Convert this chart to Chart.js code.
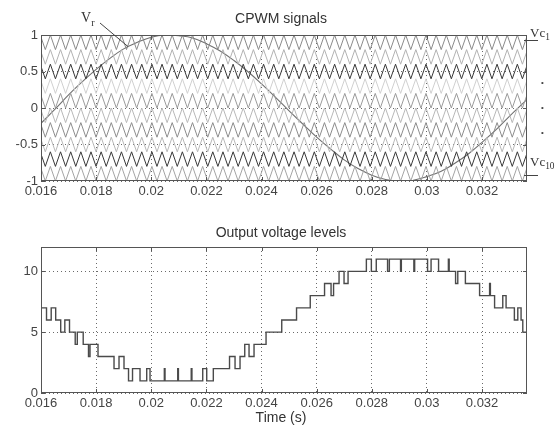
<!DOCTYPE html>
<html><head><meta charset="utf-8">
<script src="https://cdn.jsdelivr.net/npm/chart.js@4.4.1/dist/chart.umd.min.js"></script>
<style>
body{margin:0;background:#fff;width:556px;height:432px;position:relative;overflow:hidden;font-family:"Liberation Sans",Arial,sans-serif;}
canvas{position:absolute;left:0;}
.t{position:absolute;font-size:14px;line-height:16px;color:#333;white-space:nowrap;transform:translateX(-50%);}
.ann{position:absolute;font-family:"Liberation Serif","Times New Roman",serif;color:#333;white-space:nowrap;line-height:1;}
.ann sub{font-size:72%;vertical-align:-0.35em;line-height:0;}
.dot{position:absolute;font-size:8px;line-height:8px;color:#444;}
</style></head><body>
<canvas id="c1" width="556" height="200" style="top:0;width:556px;height:200px"></canvas>
<canvas id="c2" width="556" height="232" style="top:200px;width:556px;height:232px"></canvas>
<div class="t" style="left:281px;top:10px">CPWM signals</div>
<div class="t" style="left:281px;top:224px">Output voltage levels</div>
<div class="t" style="left:281px;top:409px">Time (s)</div>
<div class="ann" style="left:81px;top:11px;font-size:14px">V<sub>r</sub></div>
<div class="ann" style="left:530px;top:26px;font-size:13px">Vc<sub>1</sub></div>
<div class="ann" style="left:530px;top:155px;font-size:13px">Vc<sub>10</sub></div>
<div class="dot" style="left:541px;top:79px">•</div>
<div class="dot" style="left:541px;top:104px">•</div>
<div class="dot" style="left:541px;top:129px">•</div>
<script>
// ---------- data ----------
const xMin = 0.016, xMax = 0.03363;
const xTicks = [0.016,0.018,0.020,0.022,0.024,0.026,0.028,0.030,0.032];
const xTickLabels = ['0.016','0.018','0.02','0.022','0.024','0.026','0.028','0.03','0.032'];
const topYTicks = [-1,-0.5,0,0.5,1];
const topYTickLabels = ['-1','-0.5','0','0.5','1'];
const botYTicks = [0,5,10];
const botYTickLabels = ['0','5','10'];

// carrier bands (bottom, top), listed from Vc1 (top) to Vc10 (bottom)
const carrierBands = [[0.8,1],[0.6,0.8],[0.4,0.6],[0.2,0.4],[0,0.2],[-0.2,0],[-0.4,-0.2],[-0.6,-0.4],[-0.8,-0.6],[-1,-0.8]];
// carrier vertex times (even index = peak of band, odd index = valley)
const carrierVertexTimes = [0.015972,0.016156,0.016340,0.016524,0.016709,0.016893,0.017077,0.017261,0.017445,0.017629,
0.017813,0.017997,0.018182,0.018366,0.018550,0.018734,0.018918,0.019102,0.019286,0.019470,
0.019655,0.019839,0.020023,0.020207,0.020391,0.020575,0.020759,0.020944,0.021128,0.021312,
0.021496,0.021680,0.021864,0.022048,0.022232,0.022417,0.022601,0.022785,0.022969,0.023153,
0.023337,0.023521,0.023705,0.023890,0.024074,0.024258,0.024442,0.024626,0.024810,0.024994,
0.025179,0.025363,0.025547,0.025731,0.025915,0.026099,0.026283,0.026467,0.026652,0.026836,
0.027020,0.027204,0.027388,0.027572,0.027756,0.027940,0.028125,0.028309,0.028493,0.028677,
0.028861,0.029045,0.029229,0.029413,0.029598,0.029782,0.029966,0.030150,0.030334,0.030518,
0.030702,0.030886,0.031071,0.031255,0.031439,0.031623,0.031807,0.031991,0.032175,0.032359,
0.032544,0.032728,0.032912,0.033096,0.033280,0.033464,0.033648];

// reference signal Vr
const refTimes = [0.0160,0.0165,0.0170,0.0175,0.0180,0.0185,0.0190,0.0195,0.0200,0.0205,
0.0210,0.0215,0.0220,0.0225,0.0230,0.0235,0.0240,0.0245,0.0250,0.0255,
0.0260,0.0265,0.0270,0.0275,0.0280,0.0285,0.0290,0.0295,0.0300,0.0305,
0.0310,0.0315,0.0320,0.0325,0.0330,0.0335,0.03363];
const refValues = [-0.21,-0.02,0.18,0.36,0.53,0.68,0.81,0.90,0.97,1.00,
0.99,0.96,0.88,0.78,0.65,0.50,0.33,0.15,-0.04,-0.22,
-0.40,-0.56,-0.71,-0.83,-0.92,-0.98,-1.00,-0.99,-0.94,-0.87,
-0.76,-0.63,-0.47,-0.30,-0.11,0.07,0.12];
const vrPointer = [0.01916, 0.84];

// output voltage levels (level starting at each time)
const levelTimes = [0.016000,0.016011,0.016200,0.016370,0.016533,0.016715,0.016864,0.017034,0.017241,0.017317,
0.017531,0.017723,0.017778,0.018068,0.018649,0.018830,0.019011,0.019175,0.019320,0.019592,
0.019835,0.019955,0.020474,0.020499,0.020960,0.020985,0.021450,0.021475,0.021867,0.022012,
0.022251,0.022839,0.023039,0.023220,0.023391,0.023547,0.023728,0.024164,0.024733,0.025270,
0.025767,0.026286,0.026522,0.026613,0.026812,0.026993,0.027139,0.027803,0.027984,0.028162,
0.028572,0.028637,0.029043,0.029072,0.029526,0.029555,0.030023,0.030150,0.030422,0.030778,
0.030807,0.031039,0.031119,0.031395,0.031910,0.032273,0.032302,0.032454,0.032751,0.032871,
0.033172,0.033296,0.033415,0.033477,0.033630];
const levelValues = [8,7,6,7,6,5,6,5,4,5,
4,3,4,3,2,3,2,1,2,1,
2,1,2,1,2,1,2,1,2,1,
2,3,2,3,4,3,4,5,6,7,
8,9,8,9,10,9,10,11,10,11,
10,11,10,11,10,11,10,11,10,11,
10,9,10,9,8,9,8,7,8,7,
6,7,6,5,5];

// ---------- styles ----------
const carrierColors = ['#8a8a8a','#b2b2b2','#383838','#d0d0d0','#9a9a9a','#b8b8b8','#8c8c8c','#b8b8b8','#383838','#a4a4a4'];
const FONT = {family:'"Liberation Sans", Arial, sans-serif', size:13};
const TICKCOL = '#444';

function xScale(h){
  return {type:'linear',min:xMin,max:xMax,
    afterBuildTicks:s=>{s.ticks=xTicks.map(v=>({value:v}));},
    ticks:{autoSkip:false,maxRotation:0,minRotation:0,padding:3,color:TICKCOL,font:FONT,callback:(v,i)=>xTickLabels[i]},
    grid:{color:'#6a6a6a',lineWidth:1,drawTicks:false},
    border:{display:false,dash:[1,3]},
    afterFit:s=>{s.height=h;}};
}
function yScale(min,max,ticks,labels){
  return {type:'linear',min:min,max:max,
    afterBuildTicks:s=>{s.ticks=ticks.map(v=>({value:v}));},
    ticks:{autoSkip:false,padding:3,color:TICKCOL,font:FONT,callback:(v,i)=>labels[i]},
    grid:{color:'#6a6a6a',lineWidth:1,drawTicks:false},
    border:{display:false,dash:[1,3]},
    afterFit:s=>{s.width=41;}};
}
const boxPlugin = {id:'box',afterDraw(chart){
  const {ctx,chartArea:a}=chart; const xs=chart.scales.x, ys=chart.scales.y;
  ctx.save(); ctx.strokeStyle='#555'; ctx.lineWidth=1;
  ctx.strokeRect(Math.round(a.left)+0.5,Math.round(a.top)+0.5,Math.round(a.right-a.left)-1,Math.round(a.bottom-a.top)-1);
  ctx.beginPath();
  xs.ticks.forEach(t=>{const p=Math.round(xs.getPixelForValue(t.value))+0.5;
    ctx.moveTo(p,a.bottom);ctx.lineTo(p,a.bottom-4);ctx.moveTo(p,a.top);ctx.lineTo(p,a.top+4);});
  ys.ticks.forEach(t=>{const p=Math.round(ys.getPixelForValue(t.value))+0.5;
    ctx.moveTo(a.left,p);ctx.lineTo(a.left+4,p);ctx.moveTo(a.right,p);ctx.lineTo(a.right-4,p);});
  ctx.stroke(); ctx.restore();
}};
const annotPlugin = {id:'annot',afterDraw(chart){
  const {ctx,chartArea:a}=chart; const xs=chart.scales.x, ys=chart.scales.y;
  ctx.save(); ctx.strokeStyle='#444'; ctx.lineWidth=1; ctx.beginPath();
  ctx.moveTo(100,23); ctx.lineTo(xs.getPixelForValue(vrPointer[0]), ys.getPixelForValue(vrPointer[1]));
  const y1=Math.round(ys.getPixelForValue(0.93))+0.5, y10=Math.round(ys.getPixelForValue(-0.92))+0.5;
  ctx.moveTo(a.right-3,y1); ctx.lineTo(a.right+11,y1);
  ctx.moveTo(a.right-3,y10); ctx.lineTo(a.right+11,y10);
  ctx.stroke(); ctx.restore();
}};

const carrierSets = carrierBands.map((b,k)=>({
  data: carrierVertexTimes.map((t,j)=>({x:t,y:(j%2===0)?b[1]:b[0]})),
  borderColor: carrierColors[k], borderWidth:1, pointRadius:0, tension:0
}));
const refSet = {data: refTimes.map((t,i)=>({x:t,y:refValues[i]})), borderColor:'#707070', borderWidth:1.1, pointRadius:0, tension:0.4};

new Chart(document.getElementById('c1'),{
  type:'line',
  data:{datasets:[...carrierSets, refSet]},
  options:{responsive:false,animation:false,devicePixelRatio:1,
    layout:{padding:{left:0,right:29,top:35,bottom:0}},
    plugins:{legend:{display:false},tooltip:{enabled:false},title:{display:false}},
    scales:{x:xScale(19), y:yScale(-1,1,topYTicks,topYTickLabels)}},
  plugins:[boxPlugin, annotPlugin]
});

new Chart(document.getElementById('c2'),{
  type:'line',
  data:{datasets:[{data:levelTimes.map((t,i)=>({x:t,y:levelValues[i]})), borderColor:'#4a4a4a', borderWidth:1.4, pointRadius:0, stepped:true}]},
  options:{responsive:false,animation:false,devicePixelRatio:1,
    layout:{padding:{left:0,right:29,top:47,bottom:19}},
    plugins:{legend:{display:false},tooltip:{enabled:false},title:{display:false}},
    scales:{x:xScale(20), y:yScale(0,12,botYTicks,botYTickLabels)}},
  plugins:[boxPlugin]
});
</script>
</body></html>
